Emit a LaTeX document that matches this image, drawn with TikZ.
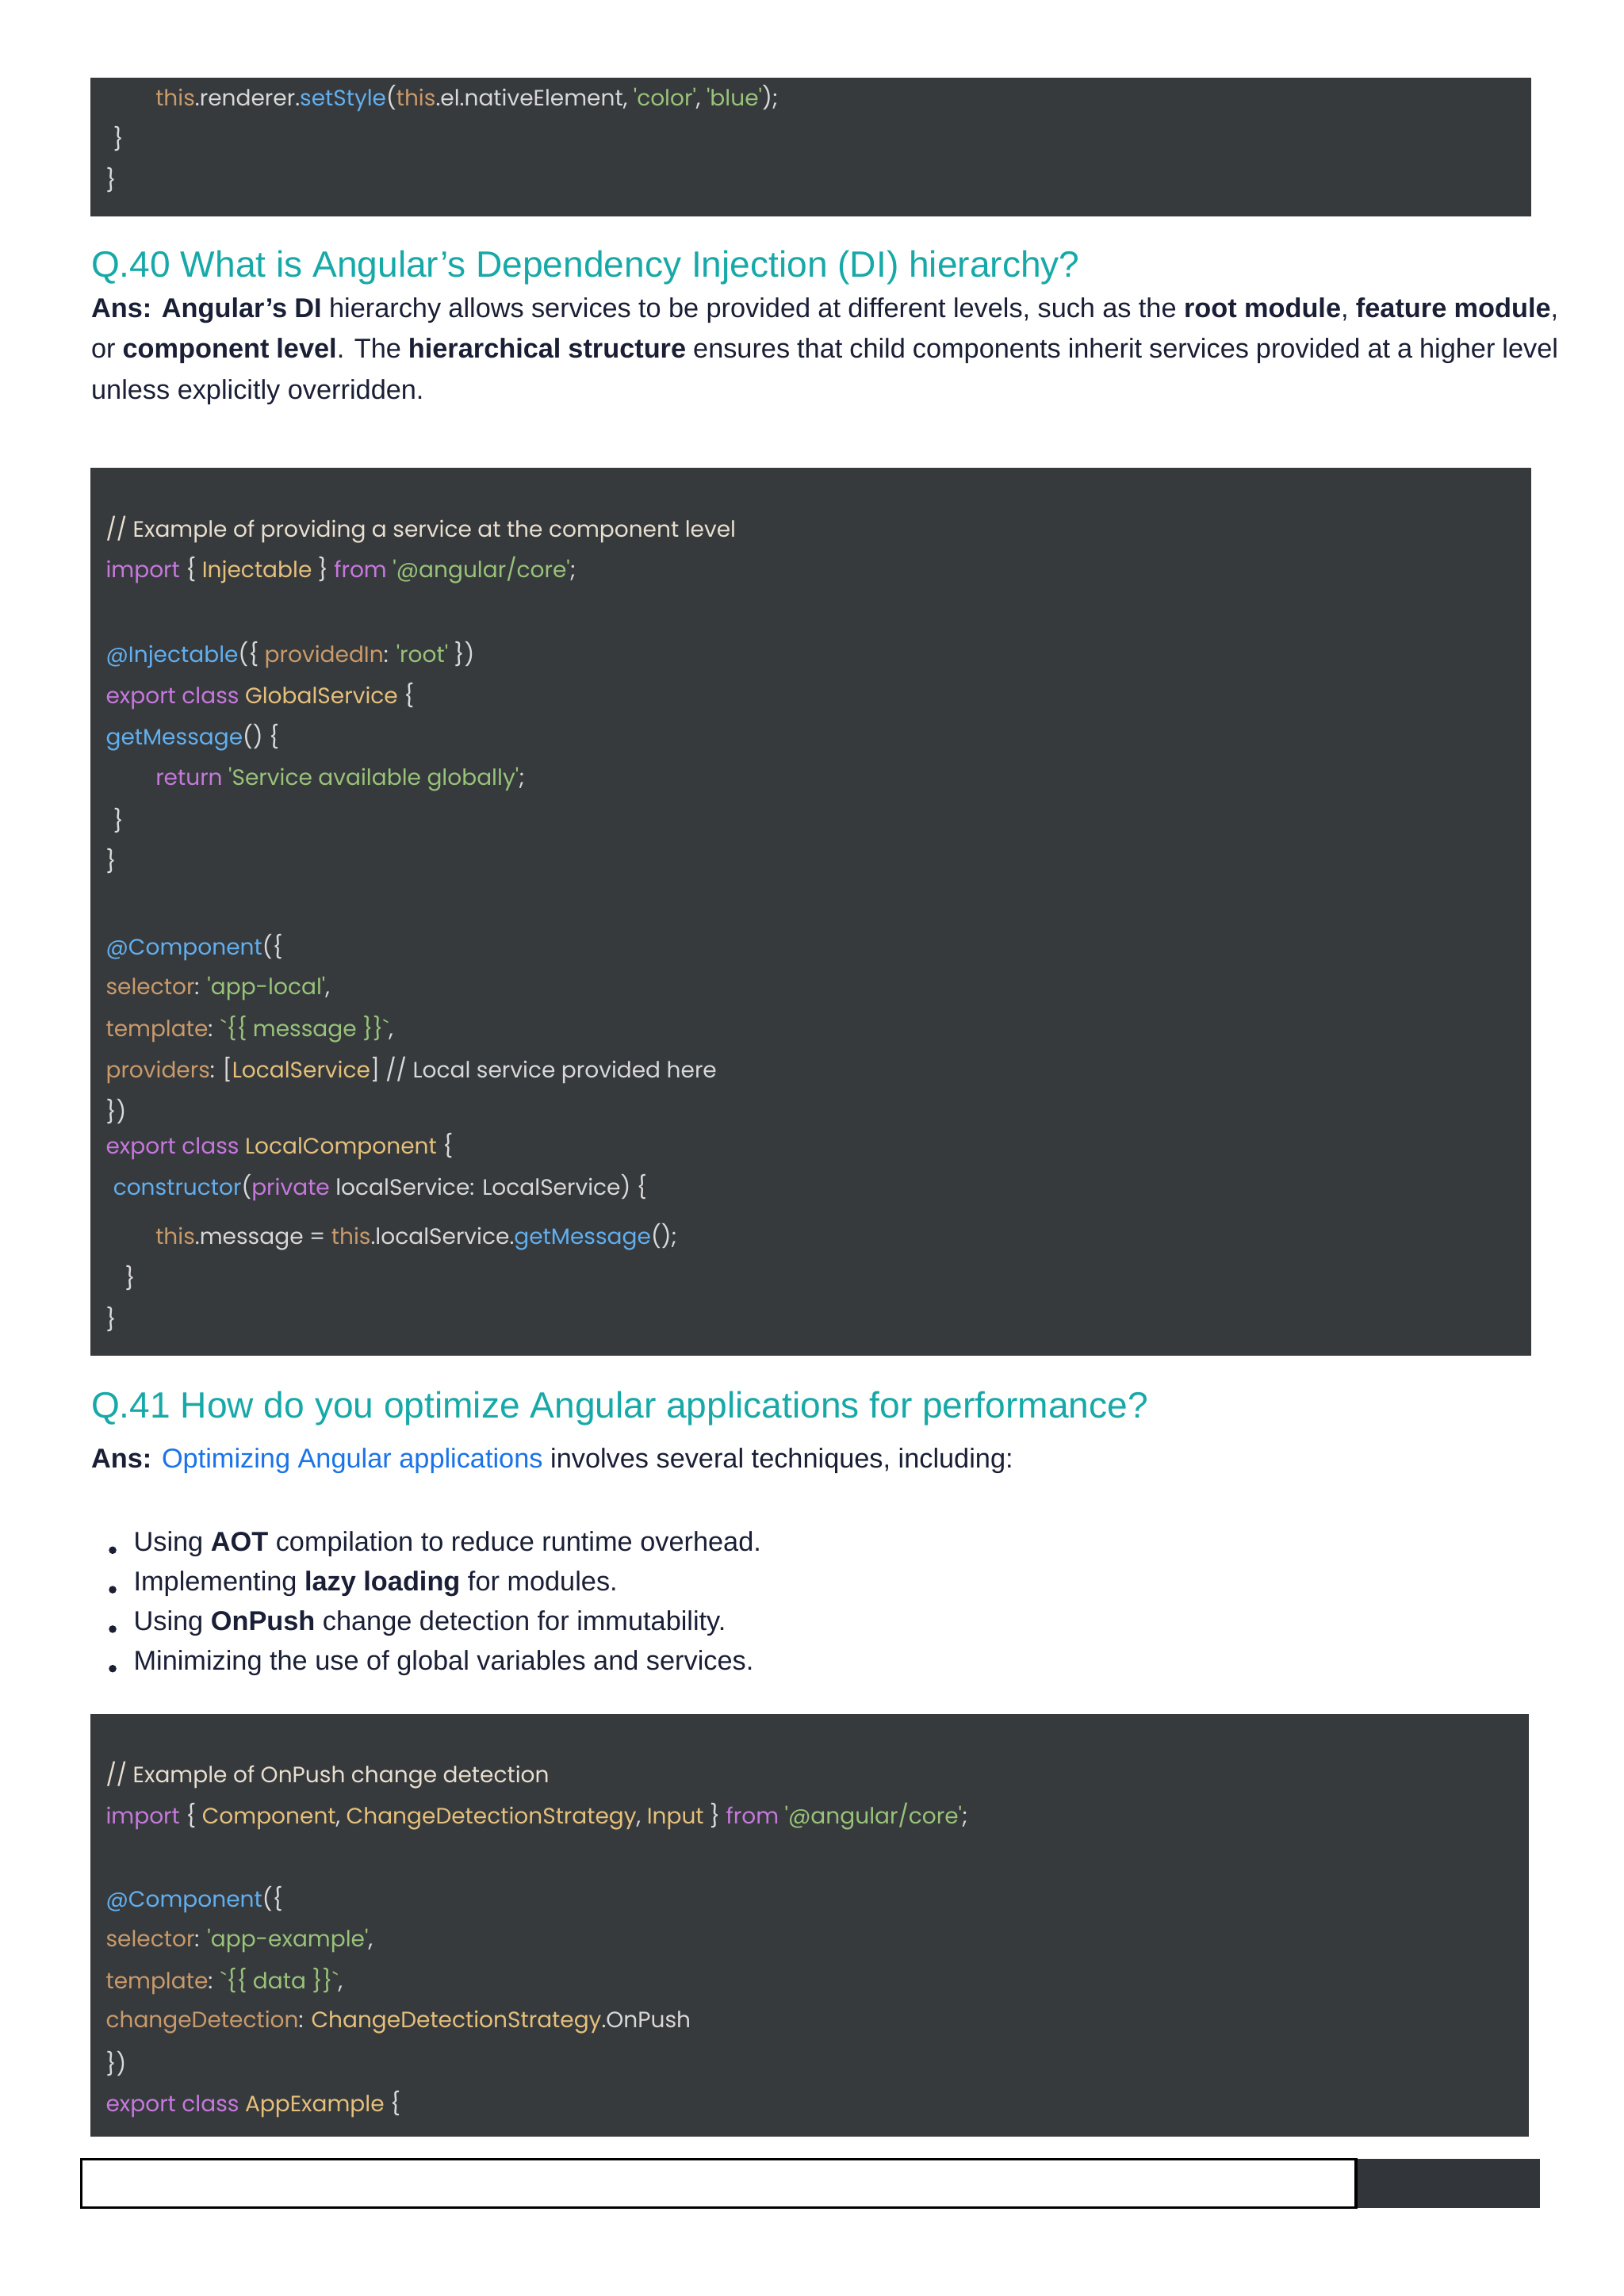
\documentclass[tikz,border=0pt]{standalone}
\usepackage{fontspec}
\setmainfont{Liberation Sans}
\newfontfamily\codef{Poppins}
\newfontfamily\headf{Open Sans}
\definecolor{codebg}{HTML}{373A3D}
\definecolor{ctx}{HTML}{D8D8D8}
\definecolor{cmt}{HTML}{E8DFCF}
\definecolor{kw}{HTML}{C678DD}
\definecolor{cls}{HTML}{E5C07B}
\definecolor{str}{HTML}{98C379}
\definecolor{fn}{HTML}{61AFEF}
\definecolor{prop}{HTML}{C99A6A}
\definecolor{teal}{HTML}{17A9A8}
\definecolor{body}{HTML}{1A1F36}
\definecolor{lnk}{HTML}{1A73E8}
\definecolor{foot}{HTML}{32363B}
\newcommand{\K}[1]{\textcolor{kw}{#1}}
\newcommand{\C}[1]{\textcolor{cls}{#1}}
\newcommand{\Sg}[1]{\textcolor{str}{#1}}
\newcommand{\F}[1]{\textcolor{fn}{#1}}
\newcommand{\Pp}[1]{\textcolor{prop}{#1}}
\begin{document}
\begin{tikzpicture}[x=0.5pt,y=-0.5pt,
  code/.style={anchor=west,inner sep=0pt,text=ctx,font=\codef\fontsize{7.6}{9}\selectfont},
  head/.style={anchor=west,inner sep=0pt,text=teal,font=\fontsize{12.5}{15}\selectfont},
  txt/.style={anchor=west,inner sep=0pt,text=body,font=\fontsize{9.3}{14}\selectfont},
  blk/.style={fill=codebg,draw=none}]
\useasboundingbox[fill=white] (0,0) rectangle (1110,1570);
% block 1
\fill[codebg] (62,53) rectangle (1047,148);
\node[code] (a1) at (106,67) {\Pp{this}.renderer.\F{setStyle}(\Pp{this}.el.nativeElement, \Sg{'color'}, \Sg{'blue'});};
\node[code] (a2) at (77,95) {\}};
\node[code] (a3) at (72,123) {\}};
% Q40
\node[head] (q40) at (62,183) {Q.40 What is Angular's Dependency Injection (DI) hierarchy?};
\node[anchor=north west,inner sep=0pt,text=body,text width=501.5pt,align=justify,font=\fontsize{9.3}{14}\selectfont] (ans40) at (62,203)
 {\textbf{Ans: Angular's DI} hierarchy allows services to be provided at different levels, such as the \textbf{root module}, \textbf{feature module}, or \textbf{component level}. The \textbf{hierarchical structure} ensures that child components inherit services provided at a higher level unless explicitly overridden.};
% block 2
\fill[codebg] (62,320) rectangle (1047,927);
\node[code,text=cmt] (b1) at (72,362) {// Example of providing a service at the component level};
\node[code] (b2) at (72,390) {\K{import} \{ \C{Injectable} \} \K{from} \Sg{'@angular/core'};};
\node[code] (b3) at (72,448) {\F{@Injectable}(\{ \Pp{providedIn}: \Sg{'root'} \})};
\node[code] (b4) at (72,476) {\K{export class} \C{GlobalService} \{};
\node[code] (b5) at (72,504) {\F{getMessage}() \{};
\node[code] (b6) at (106,533) {\K{return} \Sg{'Service available globally'};};
\node[code] (b7) at (77,561) {\}};
\node[code] (b8) at (72,589) {\}};
\node[code] (b9) at (72,648) {\F{@Component}(\{};
\node[code] (b10) at (72,676) {\Pp{selector}: \Sg{'app-local'},};
\node[code] (b11) at (72,704) {\Pp{template}: \Sg{`\{\{ message \}\}`},};
\node[code] (b12) at (72,732) {\Pp{providers}: [\C{LocalService}] // Local service provided here};
\node[code] (b13) at (72,760) {\})};
\node[code] (b14) at (72,784) {\K{export class} \C{LocalComponent} \{};
\node[code] (b15) at (77,812) {\F{constructor}(\K{private} localService: LocalService) \{};
\node[code] (b16) at (106,846) {\Pp{this}.message = \Pp{this}.localService.\F{getMessage}();};
\node[code] (b17) at (85,874) {\}};
\node[code] (b18) at (72,902) {\}};
% Q41
\node[head] (q41) at (62,963) {Q.41 How do you optimize Angular applications for performance?};
\node[txt] (ans41) at (62,999) {\textbf{Ans:} \textcolor{lnk}{Optimizing Angular applications} involves several techniques, including:};
\foreach \yy/\tt [count=\i] in {1056/{Using \textbf{AOT} compilation to reduce runtime overhead.},1083/{Implementing \textbf{lazy loading} for modules.},1110/{Using \textbf{OnPush} change detection for immutability.},1137/{Minimizing the use of global variables and services.}}{
  \fill[body] (77,\yy+4) circle (2.6);
  \node[txt] (bl\i) at (91,\yy) {\tt};
}
% block 3
\fill[codebg] (62,1172) rectangle (1045,1461);
\node[code,text=cmt] (c1) at (72,1214) {// Example of OnPush change detection};
\node[code] (c2) at (72,1242) {\K{import} \{ \C{Component}, \C{ChangeDetectionStrategy}, \C{Input} \} \K{from} \Sg{'@angular/core'};};
\node[code] (c3) at (72,1299) {\F{@Component}(\{};
\node[code] (c4) at (72,1327) {\Pp{selector}: \Sg{'app-example'},};
\node[code] (c5) at (72,1355) {\Pp{template}: \Sg{`\{\{ data \}\}`},};
\node[code] (c6) at (72,1383) {\Pp{changeDetection}: \C{ChangeDetectionStrategy}.OnPush};
\node[code] (c7) at (72,1411) {\})};
\node[code] (c8) at (72,1439) {\K{export class} \C{AppExample} \{};
% footer
\fill[foot] (927,1476) rectangle (1053,1510);
\draw[black,line width=1pt] (55.5,1476.5) rectangle (927,1509.5);
\end{tikzpicture}
\end{document}
